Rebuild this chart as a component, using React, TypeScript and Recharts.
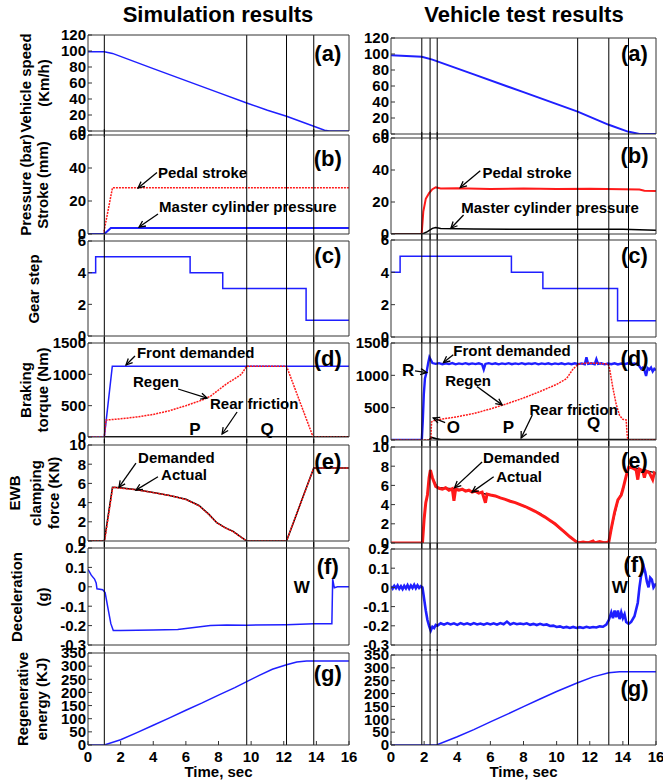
import React from "react";
import { LineChart, Line, XAxis, YAxis, ReferenceLine, ReferenceDot, Label } from "recharts";

type Pt = [number, number];

const FONT = "'Liberation Sans', Arial, Helvetica, sans-serif";
const BLUE = "#1f1fff";
const RED = "#ff1a1a";
const INK = "#000000";
const FRAME = "#333333";

const timeTicks = [0, 2, 4, 6, 8, 10, 12, 14, 16];
const speedTicks = [0, 20, 40, 60, 80, 100, 120];
const strokeTicks = [0, 20, 40, 60];
const gearTicks = [0, 2, 4, 6];
const torqueTicks = [0, 500, 1000, 1500];
const forceTicks = [0, 2, 4, 6, 8, 10];
const decelTicks = [-0.3, -0.2, -0.1, 0, 0.1, 0.2];
const energyTicks = [0, 50, 100, 150, 200, 250, 300, 350];

// phase markers, sec
const simMarkers = [1.0, 9.73, 12.17, 13.84];
const testMarkers = [1.86, 2.36, 2.79, 11.27, 13.15, 14.34];

// (a) vehicle speed, km/h
const simSpeed: Pt[] = [[0, 99], [1.0, 99], [1.5, 97], [4, 78], [6, 63], [8, 48], [9.73, 35], [11, 26], [12.17, 18.5], [13.84, 6], [14.5, 1], [14.8, 0], [16, 0]];
const testSpeed: Pt[] = [[0, 98.5], [1.86, 96.5], [2.5, 93], [5, 74.5], [8, 52.3], [11.27, 28], [13.15, 11.5], [14.3, 3], [15, 0], [16, 0]];

// (b) pedal stroke (mm) / master cylinder pressure (bar)
const simPedal: Pt[] = [[0, 0], [0.95, 0], [1.5, 28], [16, 28]];
const simMaster: Pt[] = [[0, 0], [1.0, 0], [1.4, 3.7], [16, 3.7]];
const testPedal: Pt[] = [[0, 0], [1.85, 0], [1.95, 14], [2.1, 22], [2.3, 25.5], [2.5, 28], [2.7, 29.2], [3.0, 28.4], [4, 28.6], [6, 28.2], [8, 28.4], [10, 28.1], [12, 28.3], [14, 28], [15, 27.8], [15.3, 27], [16, 26.8]];
const testMaster: Pt[] = [[0, 0], [1.9, 0], [2.2, 1.5], [2.5, 3.5], [2.7, 4.1], [3.0, 3.4], [5, 3.1], [8, 3.0], [11, 2.9], [14, 3.0], [15, 2.6], [16, 2.3]];

// (c) gear step
const simGear: Pt[] = [[0, 4], [0.47, 5], [6.26, 4], [8.26, 3], [13.37, 1], [16, 1]];
const testGear: Pt[] = [[0, 4], [0.55, 5], [7.27, 4], [9.17, 3], [13.68, 1], [16, 1]];

// (d) braking torque, Nm
const simFront: Pt[] = [[0, 0], [1.0, 0], [1.49, 1130], [16, 1130]];
const simRegen: Pt[] = [[0, 0], [1.0, 0], [1.1, 270], [2, 290], [3, 320], [4, 360], [5, 420], [6, 500], [7, 590], [7.5, 650], [8, 750], [8.5, 850], [9, 930], [9.4, 1000], [9.73, 1130], [12.17, 1130], [13.8, 0], [16, 0]];
const simRear: Pt[] = [[1.0, 0], [16, 0]];
const testFront: Pt[] = [[0, 0], [1.86, 0], [1.92, 300], [1.98, 700], [2.05, 950], [2.15, 1050], [2.25, 1200], [2.32, 1280], [2.4, 1240], [2.5, 1190], [2.7, 1178], [2.9, 1188], [3.1, 1172], [3.3, 1186], [3.5, 1174], [3.7, 1190], [3.9, 1170], [4.1, 1184], [4.3, 1174], [4.5, 1188], [4.7, 1172], [4.9, 1184], [5.1, 1174], [5.3, 1186], [5.5, 1170], [5.6, 1090], [5.7, 1176], [5.9, 1188], [6.1, 1174], [6.3, 1186], [6.5, 1170], [6.7, 1184], [6.9, 1174], [7.1, 1188], [7.3, 1172], [7.5, 1184], [7.7, 1174], [7.9, 1188], [8.1, 1172], [8.3, 1184], [8.5, 1176], [8.7, 1188], [8.9, 1170], [9.1, 1184], [9.3, 1174], [9.5, 1186], [9.7, 1170], [9.9, 1184], [10.1, 1174], [10.3, 1186], [10.5, 1170], [10.7, 1184], [10.9, 1172], [11.1, 1186], [11.3, 1174], [11.5, 1184], [11.7, 1172], [11.8, 1280], [11.9, 1176], [12.1, 1186], [12.3, 1172], [12.4, 1250], [12.5, 1176], [12.7, 1186], [12.9, 1170], [13.1, 1182], [13.3, 1172], [13.5, 1186], [13.7, 1168], [13.9, 1182], [14.1, 1172], [14.3, 1186], [14.5, 1172], [14.7, 1182], [14.9, 1166], [15.0, 1140], [15.1, 1100], [15.2, 1120], [15.3, 1080], [15.4, 990], [15.5, 1110], [15.6, 1090], [15.7, 1120], [15.8, 1060], [15.9, 1100], [16, 1080]];
const testRegen: Pt[] = [[0, 0], [2.4, 0], [2.45, 280], [2.6, 300], [3, 320], [4, 360], [5, 410], [6, 480], [7, 560], [8, 650], [9, 750], [10, 860], [10.6, 950], [11.0, 1100], [11.3, 1170], [11.8, 1190], [12.5, 1185], [13.1, 1175], [13.2, 1100], [13.4, 800], [13.6, 550], [13.8, 380], [14.0, 320], [14.2, 310], [14.25, 100], [14.3, 0], [16, 0]];
const testRear: Pt[] = [[2.3, 0], [2.45, 40], [2.7, 20], [3, 5], [16, 5]];

// (e) EWB clamping force, kN
const simDemand: Pt[] = [[0, 0], [1.0, 0], [1.5, 5.6], [2, 5.55], [3, 5.35], [4, 5.05], [5, 4.75], [6, 4.35], [6.8, 3.7], [7.4, 2.8], [7.9, 1.9], [8.4, 1.4], [8.9, 1.0], [9.3, 0.5], [9.73, 0], [12.17, 0], [13.84, 7.6], [16, 7.6]];
const simActual: Pt[] = [[0, 0], [1.02, 0], [1.52, 5.6], [2, 5.5], [3, 5.33], [4, 5.04], [5, 4.74], [6, 4.33], [6.8, 3.68], [7.4, 2.78], [7.9, 1.9], [8.4, 1.38], [8.9, 0.98], [9.3, 0.5], [9.73, 0], [12.17, 0], [13.84, 7.6], [16, 7.6]];
const testDemand: Pt[] = [[0, 0], [1.9, 0], [2.05, 3.5], [2.2, 5], [2.36, 7.6], [2.5, 6.8], [2.8, 5.8], [4, 5.6], [5, 5.35], [6, 5.0], [7, 4.5], [8, 3.9], [9, 3.1], [10, 1.8], [10.6, 0.9], [11.27, 0.1], [13.15, 0.1], [13.4, 2.2], [13.7, 4.4], [14.0, 5.5], [14.2, 7.0], [14.35, 7.9], [15, 7.7], [16, 7.3]];
const testActual: Pt[] = [[0, 0], [1.9, 0], [2.0, 2.5], [2.1, 4.2], [2.2, 5.0], [2.3, 6.8], [2.38, 7.6], [2.5, 6.8], [2.7, 5.9], [2.9, 5.7], [3.1, 5.6], [3.3, 5.75], [3.5, 5.5], [3.7, 5.65], [3.8, 4.4], [3.9, 5.6], [4.1, 5.5], [4.3, 5.6], [4.5, 5.4], [4.7, 5.5], [4.9, 5.3], [5.1, 5.4], [5.3, 5.2], [5.5, 5.3], [5.7, 4.2], [5.8, 5.1], [6.0, 5.0], [6.3, 4.9], [6.6, 4.7], [6.9, 4.55], [7.2, 4.35], [7.5, 4.2], [7.8, 4.0], [8.1, 3.8], [8.4, 3.55], [8.7, 3.3], [9.0, 3.0], [9.3, 2.7], [9.6, 2.35], [9.9, 2.0], [10.2, 1.55], [10.5, 1.1], [10.8, 0.65], [11.1, 0.25], [11.3, 0.0], [11.6, 0.1], [11.9, 0.0], [12.2, 0.2], [12.3, 0.0], [12.6, 0.15], [12.9, 0.0], [13.15, 0.1], [13.3, 1.5], [13.5, 3.2], [13.7, 4.5], [13.9, 5.0], [14.0, 5.6], [14.2, 7.0], [14.35, 7.9], [14.6, 7.8], [14.8, 7.6], [14.9, 6.6], [15.0, 7.7], [15.2, 7.5], [15.3, 6.8], [15.4, 7.5], [15.6, 7.3], [15.8, 6.6], [15.9, 7.3], [16, 7.2]];

// (f) deceleration, g
const simDecel: Pt[] = [[0, 0.09], [0.2, 0.06], [0.4, 0.04], [0.5, 0.02], [0.55, -0.01], [0.9, -0.015], [1.05, -0.03], [1.2, -0.1], [1.4, -0.19], [1.55, -0.225], [2, -0.225], [4, -0.223], [5.5, -0.22], [6.5, -0.21], [7.5, -0.2], [8.5, -0.197], [9.73, -0.198], [12.17, -0.195], [13.84, -0.19], [14.95, -0.19], [15.0, 0.04], [15.1, -0.005], [15.3, 0.0], [16, 0.0]];
const testDecel: Pt[] = [[0, 0.006], [0.1, -0.006], [0.2, 0.008], [0.3, -0.004], [0.4, 0.01], [0.5, -0.007], [0.6, 0.006], [0.7, -0.009], [0.8, 0.008], [0.9, -0.005], [1.0, 0.012], [1.1, -0.006], [1.2, 0.01], [1.3, -0.003], [1.4, 0.013], [1.5, -0.004], [1.6, 0.011], [1.7, -0.003], [1.8, 0.006], [1.9, 0.0], [2.0, -0.06], [2.1, -0.12], [2.2, -0.17], [2.3, -0.2], [2.4, -0.225], [2.5, -0.205], [2.6, -0.212], [2.7, -0.196], [2.8, -0.2], [3.0, -0.187], [3.2, -0.194], [3.4, -0.186], [3.6, -0.193], [3.8, -0.187], [4.0, -0.195], [4.2, -0.186], [4.4, -0.193], [4.6, -0.187], [4.8, -0.194], [5.0, -0.186], [5.2, -0.193], [5.4, -0.188], [5.6, -0.194], [5.8, -0.187], [6.0, -0.193], [6.2, -0.187], [6.4, -0.194], [6.6, -0.186], [6.8, -0.192], [7.0, -0.178], [7.2, -0.193], [7.4, -0.186], [7.6, -0.192], [7.8, -0.188], [8.0, -0.192], [8.2, -0.187], [8.4, -0.195], [8.6, -0.19], [8.8, -0.196], [9.0, -0.19], [9.2, -0.196], [9.4, -0.193], [9.6, -0.201], [9.8, -0.199], [10.0, -0.206], [10.2, -0.203], [10.4, -0.21], [10.6, -0.206], [10.8, -0.211], [11.0, -0.206], [11.2, -0.211], [11.4, -0.207], [11.6, -0.211], [11.8, -0.205], [12.0, -0.21], [12.2, -0.206], [12.4, -0.209], [12.6, -0.203], [12.8, -0.205], [13.0, -0.194], [13.15, -0.17], [13.3, -0.13], [13.4, -0.16], [13.5, -0.12], [13.6, -0.155], [13.7, -0.12], [13.8, -0.165], [13.9, -0.13], [14.0, -0.16], [14.1, -0.14], [14.2, -0.18], [14.35, -0.19], [14.5, -0.18], [14.7, -0.15], [14.9, -0.08], [15.0, 0.0], [15.1, 0.06], [15.25, 0.11], [15.35, 0.08], [15.45, 0.03], [15.55, 0.0], [15.65, 0.05], [15.75, 0.04], [15.85, 0.0], [16, 0.02]];

// (g) regenerative energy, kJ
const simEnergy: Pt[] = [[0, 0], [1.0, 0], [2, 20], [3, 47], [4, 75], [5, 103], [6, 132], [7, 160], [8, 190], [9, 218], [9.73, 241], [10.5, 265], [11.3, 288], [12.17, 305], [12.8, 316], [13.4, 320], [16, 320]];
const testEnergy: Pt[] = [[0, 0], [2.75, 0], [4, 32], [5, 60], [6, 90], [7, 119], [8, 149], [9, 179], [10, 208], [11.27, 242], [12.2, 265], [13.15, 281], [13.8, 285], [16, 285]];

type Series = { data: Pt[]; color: string; width?: number; dash?: string; step?: boolean };
type Note = { text: string; at: Pt; center?: boolean; size?: number };
type Arrow = { from: Pt; to: Pt };
type Column = { left: number; width: number; plotLeft: number; plotRight: number };

const simCol: Column = { left: 0, width: 356, plotLeft: 88, plotRight: 349 };
const testCol: Column = { left: 356, width: 307, plotLeft: 391, plotRight: 656 };

const rows = (data: Pt[]) => data.map(([t, v]) => ({ t, v }));

function arrowShape(p: any) {
  const { x1, y1, x2, y2 } = p;
  const ang = Math.atan2(y2 - y1, x2 - x1);
  const len = 7;
  const ax = x2 - len * Math.cos(ang - 0.45);
  const ay = y2 - len * Math.sin(ang - 0.45);
  const bx = x2 - len * Math.cos(ang + 0.45);
  const by = y2 - len * Math.sin(ang + 0.45);
  return (
    <g>
      <line x1={x1} y1={y1} x2={x2} y2={y2} stroke={INK} strokeWidth={1.3} />
      <path d={`M${ax},${ay} L${x2},${y2} L${bx},${by}`} fill="none" stroke={INK} strokeWidth={1.3} />
    </g>
  );
}

type PanelProps = {
  col: Column;
  row: [number, number];
  domain: [number, number];
  ticks: number[];
  series: Series[];
  markers: number[];
  letter: string;
  letterY?: number;
  notes?: Note[];
  arrows?: Arrow[];
  first?: boolean;
  last?: boolean;
};

function Panel({ col, row, domain, ticks, series, markers, letter, letterY = 0.19, notes = [], arrows = [], first, last }: PanelProps) {
  const [top, bottom] = row;
  const pad = 6;
  const axisH = last ? 40 : 1;
  const height = bottom - top + pad + axisH + (last ? 0 : pad - 1);
  const tickStyle = { fill: INK, fontSize: 15, fontWeight: 700, fontFamily: FONT };
  const vShape = (p: any) => {
    const ya = Math.min(p.y1, p.y2);
    const yb = Math.max(p.y1, p.y2);
    return <line x1={p.x1} x2={p.x1} y1={ya - (first ? 0 : pad)} y2={yb + (last ? 0 : pad)} stroke={INK} strokeWidth={1} />;
  };
  const [lo, hi] = domain;
  return (
    <div style={{ position: "absolute", left: col.left, top: top - pad }}>
      <LineChart
        width={col.width}
        height={height}
        margin={{ top: pad - 1, right: col.left + col.width - 1 - col.plotRight, bottom: last ? 0 : pad - 1, left: 0 }}
      >
        <XAxis
          dataKey="t"
          type="number"
          domain={[0, 16]}
          ticks={timeTicks}
          interval={0}
          allowDataOverflow
          height={axisH}
          stroke={FRAME}
          tickSize={-4}
          tickMargin={10}
          tick={last ? tickStyle : false}
        />
        <XAxis xAxisId="top" orientation="top" dataKey="t" type="number" domain={[0, 16]} ticks={timeTicks} interval={0} height={1} stroke={FRAME} tickSize={-4} tick={false} />
        <YAxis
          type="number"
          domain={domain}
          ticks={ticks}
          interval={0}
          allowDataOverflow
          width={col.plotLeft - col.left}
          stroke={FRAME}
          tickSize={-4}
          tickMargin={6}
          tick={tickStyle}
        />
        <YAxis yAxisId="r" orientation="right" type="number" domain={domain} ticks={ticks} interval={0} width={1} stroke={FRAME} tickSize={-4} tick={false} />
        {series.map((s, i) => (
          <Line
            key={i}
            data={rows(s.data)}
            dataKey="v"
            type={s.step ? "stepAfter" : "linear"}
            stroke={s.color}
            strokeWidth={s.width ?? 1.5}
            strokeDasharray={s.dash}
            dot={false}
            activeDot={false}
            isAnimationActive={false}
          />
        ))}
        {markers.map((m) => (
          <ReferenceLine key={`m${m}`} x={m} shape={vShape} />
        ))}
        {arrows.map((a, i) => (
          <ReferenceLine
            key={`a${i}`}
            segment={[{ x: a.from[0], y: a.from[1] }, { x: a.to[0], y: a.to[1] }]}
            ifOverflow="visible"
            shape={arrowShape}
          />
        ))}
        {notes.map((n, i) => (
          <ReferenceDot key={`n${i}`} x={n.at[0]} y={n.at[1]} r={0} fill="none" stroke="none" ifOverflow="visible">
            <Label value={n.text} position={n.center ? "center" : "right"} offset={0} fill={INK} fontSize={n.size ?? 15} fontWeight={700} fontFamily={FONT} />
          </ReferenceDot>
        ))}
        <ReferenceDot x={14.7} y={hi - letterY * (hi - lo)} r={0} fill="none" stroke="none">
          <Label value={letter} position="center" fill={INK} fontSize={22} fontWeight={700} fontFamily={FONT} />
        </ReferenceDot>
      </LineChart>
    </div>
  );
}

const simRows: [number, number][] = [[35, 131], [135, 234], [241, 336], [343, 437], [445, 541], [548, 645], [653, 745]];
const testRows: [number, number][] = [[38, 134], [138, 234], [240, 337], [343, 440], [447, 543], [549, 645], [655, 745]];

const yLabels: { lines: string[]; xs: number[] }[] = [
  { lines: ["Vehicle speed", "(Km/h)"], xs: [25, 43] },
  { lines: ["Pressure (bar)", "Stroke (mm)"], xs: [25, 42] },
  { lines: ["Gear step"], xs: [33] },
  { lines: ["Braking", "torque (Nm)"], xs: [25, 42] },
  { lines: ["EWB", "clamping", "force (KN)"], xs: [14, 35, 53] },
  { lines: ["Deceleration", "(g)"], xs: [16, 42] },
  { lines: ["Regenerative", "energy (KJ)"], xs: [22, 41] },
];

const textBold: React.CSSProperties = { position: "absolute", fontFamily: FONT, fontWeight: 700, color: INK, whiteSpace: "nowrap" };

export default function App() {
  const S = simMarkers;
  const T = testMarkers;
  return (
    <div style={{ position: "absolute", left: 0, top: 0, width: 663, height: 782, background: "#fff", overflow: "hidden" }}>
      <style>{".recharts-surface{overflow:visible}"}</style>
      <div style={{ ...textBold, left: 218, top: 15, fontSize: 22, transform: "translate(-50%, -50%)" }}>Simulation results</div>
      <div style={{ ...textBold, left: 524, top: 15, fontSize: 22, transform: "translate(-50%, -50%)" }}>Vehicle test results</div>

      {yLabels.map((lab, r) =>
        lab.lines.map((line, j) => (
          <div
            key={`${r}-${j}`}
            style={{ ...textBold, left: lab.xs[j], top: (simRows[r][0] + simRows[r][1]) / 2, fontSize: 15, transform: "translate(-50%, -50%) rotate(-90deg)" }}
          >
            {line}
          </div>
        ))
      )}

      {/* simulation column */}
      <Panel col={simCol} row={simRows[0]} domain={[0, 120]} ticks={speedTicks} markers={S} letter="(a)" first
        series={[{ data: simSpeed, color: BLUE }]} />
      <Panel col={simCol} row={simRows[1]} domain={[0, 60]} ticks={strokeTicks} markers={S} letter="(b)" letterY={0.23}
        series={[{ data: simPedal, color: RED, dash: "2 1" }, { data: simMaster, color: BLUE, width: 2 }]}
        notes={[{ text: "Pedal stroke", at: [4.29, 37] }, { text: "Master cylinder pressure", at: [4.36, 16.4] }]}
        arrows={[{ from: [4.23, 37.2], to: [3.07, 27.9] }, { from: [4.29, 12.1], to: [3.13, 4.2] }]} />
      <Panel col={simCol} row={simRows[2]} domain={[0, 6]} ticks={gearTicks} markers={S} letter="(c)" letterY={0.15}
        series={[{ data: simGear, color: BLUE, step: true }]} />
      <Panel col={simCol} row={simRows[3]} domain={[0, 1500]} ticks={torqueTicks} markers={S} letter="(d)" letterY={0.16}
        series={[{ data: simFront, color: BLUE }, { data: simRear, color: INK, width: 2.2 }, { data: simRegen, color: RED, dash: "2 1" }]}
        notes={[
          { text: "Front demanded", at: [3.0, 1340] },
          { text: "Regen", at: [2.76, 882] },
          { text: "Rear friction", at: [7.48, 526] },
          { text: "P", at: [6.56, 128], center: true, size: 17 },
          { text: "Q", at: [10.98, 128], center: true, size: 17 },
        ]}
        arrows={[{ from: [2.88, 1292], to: [2.33, 1148] }, { from: [5.52, 766], to: [7.3, 622] }, { from: [9.14, 399], to: [8.22, 48] }]} />
      <Panel col={simCol} row={simRows[4]} domain={[0, 10]} ticks={forceTicks} markers={S} letter="(e)" letterY={0.17}
        series={[{ data: simDemand, color: INK, width: 1.5 }, { data: simActual, color: RED, dash: "2 1" }]}
        notes={[{ text: "Demanded", at: [3.07, 8.65] }, { text: "Actual", at: [4.48, 6.9] }]}
        arrows={[{ from: [2.94, 8.1], to: [1.9, 5.6] }, { from: [4.29, 6.7], to: [2.94, 5.3] }]} />
      <Panel col={simCol} row={simRows[5]} domain={[-0.3, 0.2]} ticks={decelTicks} markers={S} letter="(f)"
        series={[{ data: simDecel, color: BLUE }]}
        notes={[{ text: "W", at: [13.1, 0.0], center: true, size: 17 }]} />
      <Panel col={simCol} row={simRows[6]} domain={[0, 350]} ticks={energyTicks} markers={S} letter="(g)" letterY={0.22} last
        series={[{ data: simEnergy, color: BLUE }]} />

      {/* vehicle test column */}
      <Panel col={testCol} row={testRows[0]} domain={[0, 120]} ticks={speedTicks} markers={T} letter="(a)" letterY={0.16} first
        series={[{ data: testSpeed, color: BLUE, width: 2 }]} />
      <Panel col={testCol} row={testRows[1]} domain={[0, 60]} ticks={strokeTicks} markers={T} letter="(b)" letterY={0.18}
        series={[{ data: testPedal, color: RED, width: 2 }, { data: testMaster, color: INK, width: 1.5 }]}
        notes={[{ text: "Pedal stroke", at: [5.52, 38.2] }, { text: "Master cylinder pressure", at: [4.24, 16.3] }]}
        arrows={[{ from: [5.39, 39.5], to: [4.18, 29] }, { from: [4.38, 11.9], to: [3.62, 3.6] }]} />
      <Panel col={testCol} row={testRows[2]} domain={[0, 6]} ticks={gearTicks} markers={T} letter="(c)" letterY={0.155}
        series={[{ data: testGear, color: BLUE, step: true }]} />
      <Panel col={testCol} row={testRows[3]} domain={[0, 1500]} ticks={torqueTicks} markers={T} letter="(d)" letterY={0.16}
        series={[{ data: testFront, color: BLUE, width: 2.4 }, { data: testRear, color: INK, width: 1.8 }, { data: testRegen, color: RED, dash: "2 1" }]}
        notes={[
          { text: "Front demanded", at: [3.76, 1384] },
          { text: "Regen", at: [3.27, 919] },
          { text: "Rear friction", at: [8.36, 465] },
          { text: "R", at: [1.03, 1085], center: true, size: 17 },
          { text: "O", at: [3.76, 202], center: true, size: 17 },
          { text: "P", at: [7.09, 202], center: true, size: 17 },
          { text: "Q", at: [12.24, 264], center: true, size: 17 },
        ]}
        arrows={[
          { from: [3.76, 1318], to: [3.17, 1198] },
          { from: [5.19, 826], to: [6.71, 543] },
          { from: [8.53, 388], to: [7.86, 31] },
          { from: [1.45, 1070], to: [2.16, 1043] },
          { from: [3.27, 268], to: [2.55, 341] },
        ]} />
      <Panel col={testCol} row={testRows[4]} domain={[0, 10]} ticks={forceTicks} markers={T} letter="(e)" letterY={0.14}
        series={[{ data: testDemand, color: INK, width: 1.3 }, { data: testActual, color: RED, width: 3 }]}
        notes={[{ text: "Demanded", at: [5.56, 8.9] }, { text: "Actual", at: [6.35, 6.9] }]}
        arrows={[{ from: [5.5, 8.44], to: [3.84, 5.77] }, { from: [6.2, 6.9], to: [4.89, 5.3] }]} />
      <Panel col={testCol} row={testRows[5]} domain={[-0.3, 0.2]} ticks={decelTicks} markers={T} letter="(f)" letterY={0.16}
        series={[{ data: testDecel, color: BLUE, width: 2.6 }]}
        notes={[{ text: "W", at: [13.82, 0.0], center: true, size: 17 }]} />
      <Panel col={testCol} row={testRows[6]} domain={[0, 350]} ticks={energyTicks} markers={T} letter="(g)" letterY={0.37} last
        series={[{ data: testEnergy, color: BLUE }]} />

      <div style={{ ...textBold, left: 218.5, top: 771, fontSize: 15, transform: "translate(-50%, -50%)" }}>Time, sec</div>
      <div style={{ ...textBold, left: 523.5, top: 771, fontSize: 15, transform: "translate(-50%, -50%)" }}>Time, sec</div>
    </div>
  );
}
